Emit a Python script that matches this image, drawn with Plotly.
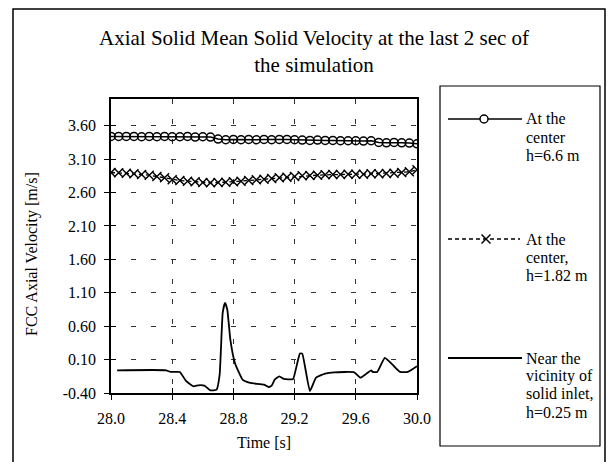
import plotly.graph_objects as go

# ---------------- data ----------------
time_center = [28.00, 28.05, 28.10, 28.15, 28.20, 28.25, 28.30, 28.35, 28.40, 28.45,
               28.50, 28.55, 28.60, 28.65, 28.70, 28.75, 28.80, 28.85, 28.90, 28.95,
               29.00, 29.05, 29.10, 29.15, 29.20, 29.25, 29.30, 29.35, 29.40, 29.45,
               29.50, 29.55, 29.60, 29.65, 29.70, 29.75, 29.80, 29.85, 29.90, 29.95, 30.00]

vel_h66 = [3.44, 3.44, 3.44, 3.44, 3.435, 3.44, 3.435, 3.44, 3.435, 3.435,
           3.44, 3.43, 3.435, 3.43, 3.40, 3.39, 3.395, 3.39, 3.395, 3.39,
           3.395, 3.39, 3.395, 3.395, 3.39, 3.385, 3.38, 3.385, 3.38, 3.38,
           3.375, 3.375, 3.375, 3.37, 3.375, 3.35, 3.345, 3.35, 3.345, 3.34, 3.33]

vel_h182 = [2.90, 2.895, 2.89, 2.88, 2.87, 2.86, 2.84, 2.82, 2.79, 2.78,
            2.77, 2.76, 2.75, 2.745, 2.75, 2.755, 2.76, 2.77, 2.78, 2.79,
            2.80, 2.81, 2.82, 2.83, 2.84, 2.85, 2.855, 2.86, 2.865, 2.87,
            2.87, 2.875, 2.875, 2.875, 2.88, 2.88, 2.885, 2.89, 2.90, 2.91, 2.94]

time_inlet = [28.04, 28.36, 28.39, 28.45, 28.49, 28.54, 28.57, 28.61, 28.65, 28.69,
              28.71, 28.73, 28.745, 28.76, 28.78, 28.81, 28.86, 28.91, 29.00, 29.03,
              29.05, 29.07, 29.10, 29.13, 29.19, 29.21, 29.235, 29.25, 29.27, 29.30,
              29.34, 29.40, 29.46, 29.59, 29.63, 29.67, 29.70, 29.71, 29.74, 29.79,
              29.85, 29.89, 29.94, 30.00]
vel_h025 = [-0.06, -0.06, -0.085, -0.085, -0.22, -0.30, -0.285, -0.29, -0.36, -0.35,
            -0.13, 0.80, 0.95, 0.85, 0.40, 0.05, -0.20, -0.25, -0.275, -0.31,
            -0.29, -0.20, -0.15, -0.19, -0.19, -0.025, 0.19, 0.19, -0.03, -0.37,
            -0.17, -0.11, -0.09, -0.09, -0.17, -0.11, -0.06, -0.085, -0.085, 0.125,
            0.00, -0.085, -0.085, 0.00]

x_tickvals = [28.0, 28.4, 28.8, 29.2, 29.6, 30.0]
x_ticktext = ["28.0", "28.4", "28.8", "29.2", "29.6", "30.0"]
y_tickvals = [-0.4, 0.1, 0.6, 1.1, 1.6, 2.1, 2.6, 3.1, 3.6]
y_ticktext = ["-0.40", "0.10", "0.60", "1.10", "1.60", "2.10", "2.60", "3.10", "3.60"]

title_text = "Axial Solid Mean Solid Velocity at the last 2 sec of<br>the simulation"
legend_lines = [
    ["At the", "center", "h=6.6 m"],
    ["At the", "center,", "h=1.82 m"],
    ["Near the", "vicinity of", "solid inlet,", "h=0.25 m"],
]

# ---------------- layout geometry (pixels) ----------------
W, H = 608, 462
PL, PR, PT, PB = 111, 417, 99, 393
FONT = '"Liberation Serif", "Times New Roman", Times, serif'

def px(x):
    return (x - PL) / (PR - PL)

def py(y):
    return (PB - y) / (PB - PT)

fig = go.Figure()

fig.add_trace(go.Scatter(
    x=time_center, y=vel_h66, mode="lines+markers",
    line=dict(color="black", width=1.5),
    marker=dict(symbol="circle-open", size=8, color="black", line=dict(width=1.5)),
    showlegend=False))

fig.add_trace(go.Scatter(
    x=time_center, y=vel_h182, mode="lines+markers",
    line=dict(color="black", width=1.3, dash="4px,3px"),
    marker=dict(symbol="x-thin-open", size=9, color="black", line=dict(width=1.4, color="black")),
    showlegend=False))

fig.add_trace(go.Scatter(
    x=time_inlet, y=vel_h025, mode="lines",
    line=dict(color="black", width=1.8, shape="spline", smoothing=0.4),
    showlegend=False))

# invisible trace to carry overlay axes (inside half of crossing ticks)
fig.add_trace(go.Scatter(x=[None], y=[None], xaxis="x2", yaxis="y2",
                         showlegend=False, hoverinfo="skip"))

axis_common = dict(showline=True, linecolor="black", linewidth=1.5,
                   ticks="outside", ticklen=5, tickcolor="black", tickwidth=1.2,
                   zeroline=False, showgrid=True, gridcolor="#333333", gridwidth=1,
                   griddash="5px,15px", tickmode="array",
                   tickfont=dict(family=FONT, size=16, color="black"))

fig.update_layout(
    width=W, height=H,
    margin=dict(l=PL, r=W - PR, t=PT, b=H - PB),
    paper_bgcolor="white", plot_bgcolor="white",
    font=dict(family=FONT, color="black"),
    xaxis=dict(range=[28.0, 30.0], tickvals=x_tickvals, ticktext=x_ticktext,
               mirror=True, ticklabelstandoff=5, **axis_common),
    yaxis=dict(range=[-0.4, 4.0], tickvals=y_tickvals, ticktext=y_ticktext,
               mirror=True, ticklabelstandoff=5, **axis_common),
    xaxis2=dict(range=[28.0, 30.0], tickmode="array", tickvals=x_tickvals,
                overlaying="x", anchor="y2",
                side="bottom", ticks="inside", ticklen=5, tickcolor="black", tickwidth=1.2,
                showticklabels=False, showgrid=False, zeroline=False, showline=False),
    yaxis2=dict(range=[-0.4, 4.0], tickmode="array", tickvals=y_tickvals,
                overlaying="y", anchor="x2",
                side="left", ticks="inside", ticklen=5, tickcolor="black", tickwidth=1.2,
                showticklabels=False, showgrid=False, zeroline=False, showline=False),
)

shapes = []
annotations = []

# outer chart border
shapes.append(dict(type="rect", xref="paper", yref="paper",
                   x0=px(13), x1=px(605), y0=py(475), y1=py(9),
                   line=dict(color="black", width=1.5), fillcolor="rgba(0,0,0,0)", layer="below"))
# legend box
shapes.append(dict(type="rect", xref="paper", yref="paper",
                   x0=px(440), x1=px(600), y0=py(446), y1=py(86),
                   line=dict(color="black", width=1.2), fillcolor="rgba(0,0,0,0)"))

# legend samples
ly = [119, 239, 358]
shapes.append(dict(type="line", xref="paper", yref="paper",
                   x0=px(448), x1=px(522), y0=py(ly[0]), y1=py(ly[0]),
                   line=dict(color="black", width=1.5)))
shapes.append(dict(type="circle", xref="paper", yref="paper",
                   xsizemode="pixel", ysizemode="pixel",
                   xanchor=px(484), yanchor=py(ly[0]), x0=-4, x1=4, y0=-4, y1=4,
                   line=dict(color="black", width=1.5), fillcolor="white"))
shapes.append(dict(type="line", xref="paper", yref="paper",
                   x0=px(448), x1=px(520), y0=py(ly[1]), y1=py(ly[1]),
                   line=dict(color="black", width=1.3, dash="4px,3px")))
for s in (1, -1):
    shapes.append(dict(type="line", xref="paper", yref="paper",
                       xsizemode="pixel", ysizemode="pixel",
                       xanchor=px(486), yanchor=py(ly[1]),
                       x0=-4.5, x1=4.5, y0=-4.5 * s, y1=4.5 * s,
                       line=dict(color="black", width=1.4)))
shapes.append(dict(type="line", xref="paper", yref="paper",
                   x0=px(448), x1=px(522), y0=py(ly[2]), y1=py(ly[2]),
                   line=dict(color="black", width=1.8)))

for base, lines in zip(ly, legend_lines):
    for i, t in enumerate(lines):
        annotations.append(dict(xref="paper", yref="paper", x=px(524), y=py(base + 18 * i),
                                text=t, showarrow=False, xanchor="left", yanchor="middle",
                                font=dict(family=FONT, size=16, color="black")))

# title
annotations.append(dict(xref="paper", yref="paper", x=px(314), y=py(51),
                        text=title_text, showarrow=False, xanchor="center", yanchor="middle",
                        font=dict(family=FONT, size=21, color="black")))
# axis titles
annotations.append(dict(xref="paper", yref="paper", x=px(32), y=py(254),
                        text="FCC Axial Velocity [m/s]", showarrow=False, textangle=-90,
                        xanchor="center", yanchor="middle",
                        font=dict(family=FONT, size=16, color="black")))
annotations.append(dict(xref="paper", yref="paper", x=px(264), y=py(442),
                        text="Time [s]", showarrow=False, xanchor="center", yanchor="middle",
                        font=dict(family=FONT, size=16, color="black")))

fig.update_layout(shapes=shapes, annotations=annotations)

fig.write_html("out.html")
